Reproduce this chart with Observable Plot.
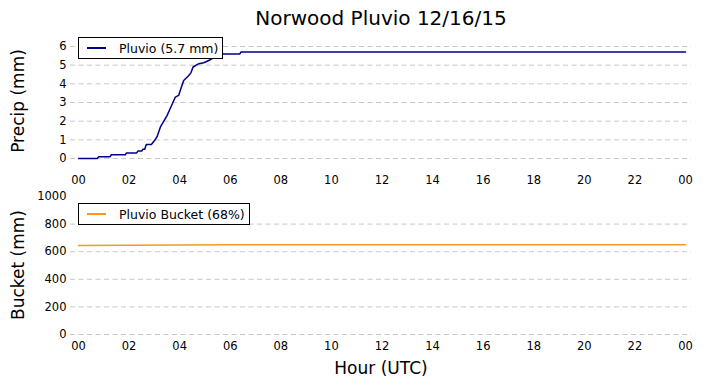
<!DOCTYPE html>
<html><head><meta charset="utf-8">
<script src="https://cdn.jsdelivr.net/npm/d3@7"></script>
<script src="https://cdn.jsdelivr.net/npm/@observablehq/plot@0.6"></script>
<style>
body{margin:0;background:#fff;font-family:"DejaVu Sans",sans-serif;}
#wrap{position:relative;width:703px;height:388px;overflow:hidden;}
.abs{position:absolute;}
.title{left:0;width:762px;top:6px;text-align:center;font-size:20px;}
.ylab{font-size:17px;white-space:nowrap;transform:translate(-50%,-50%) rotate(-90deg);}
.legend{border:1px solid #000;background:#fff;font-size:12.5px;height:22px;box-sizing:border-box;display:flex;align-items:center;}
.legend .sw{width:19px;height:0;border-top:2px solid;margin:0 13px 0 8px;}
</style></head>
<body><div id="wrap"></div>
<script>
// Precip (cumulative, mm) vs hour UTC
const precipHours = [0,0.74,0.8,1.25,1.3,1.85,1.9,2.3,2.35,2.5,2.55,2.62,2.68,2.88,3.0,3.11,3.24,3.35,3.5,3.64,3.75,3.83,3.96,4.05,4.16,4.36,4.45,4.53,4.76,4.95,5.15,5.4,5.73,6.38,6.42,24];
const precipMm   = [0,0,0.1,0.1,0.2,0.2,0.3,0.3,0.4,0.4,0.5,0.5,0.75,0.75,0.95,1.18,1.69,1.95,2.3,2.72,3.05,3.29,3.38,3.75,4.18,4.45,4.6,4.9,5.08,5.13,5.25,5.45,5.6,5.6,5.7,5.7];
// Bucket level (mm)
const bucketHours = [0,2,4,6,24];
const bucketMm    = [645,646,649,650,651];
const xTicks = [0,2,4,6,8,10,12,14,16,18,20,22,24];
const precipTicks = [0,1,2,3,4,5,6];
const bucketTicks = [0,200,400,600,800,1000];
const bucketGrid = [0,200,400,600,800];

const precipData = precipHours.map((h,i)=>({h, v: precipMm[i]}));
const bucketData = bucketHours.map((h,i)=>({h, v: bucketMm[i]}));
const fmt = d => String(d % 24).padStart(2,"0");
const yfmt = d => String(d);
const xDomain = [-0.316, 24.237];
const plotStyle = {fontFamily:"DejaVu Sans, sans-serif", fontSize:"11.5px", color:"#000", background:"#fff", overflow:"visible"};

const wrap = document.getElementById("wrap");
function add(cls, css, html){const d=document.createElement("div");d.className="abs "+cls;Object.assign(d.style,css);if(html!==undefined)d.innerHTML=html;wrap.appendChild(d);return d;}

add("title",{},"Norwood Pluvio 12/16/15");

const topPlot = Plot.plot({
  width:703, height:165, marginLeft:70, marginRight:12, marginTop:10, marginBottom:31,
  style: plotStyle,
  x:{domain:xDomain, ticks:xTicks, tickFormat:fmt, tickSize:0, tickPadding:11, label:null},
  y:{domain:[-0.32,6.32], ticks:precipTicks, tickFormat:yfmt, tickSize:0, tickPadding:4, label:null},
  marks:[
    Plot.gridY(precipTicks,{stroke:"#c8c8c8", strokeOpacity:1, strokeDasharray:"5,3.5"}),
    Plot.line(precipData,{x:"h", y:"v", stroke:"#00008b", strokeWidth:1.5}),
    Plot.axisX(xTicks,{tickFormat:fmt, tickSize:0, tickPadding:11, label:null}),
    Plot.axisY(precipTicks,{tickFormat:yfmt, tickSize:0, tickPadding:4, label:null})
  ]
});
topPlot.style.position="absolute"; topPlot.style.left="0px"; topPlot.style.top="30px";
wrap.appendChild(topPlot);

const botPlot = Plot.plot({
  width:703, height:175, marginLeft:70, marginRight:12, marginTop:10, marginBottom:27,
  style: plotStyle,
  x:{domain:xDomain, ticks:xTicks, tickFormat:fmt, tickSize:0, tickPadding:7, label:null},
  y:{domain:[0,1000], ticks:bucketTicks, tickFormat:yfmt, tickSize:0, tickPadding:4, label:null},
  marks:[
    Plot.gridY(bucketGrid,{stroke:"#c8c8c8", strokeOpacity:1, strokeDasharray:"5,3.5"}),
    Plot.line(bucketData,{x:"h", y:"v", stroke:"#f39a1e", strokeWidth:1.5}),
    Plot.axisX(xTicks,{tickFormat:fmt, tickSize:0, tickPadding:7, label:null}),
    Plot.axisY(bucketTicks,{tickFormat:yfmt, tickSize:0, tickPadding:4, label:null})
  ]
});
botPlot.style.position="absolute"; botPlot.style.left="0px"; botPlot.style.top="186px";
wrap.appendChild(botPlot);

add("ylab",{left:"18px",top:"101px"},"Precip (mm)");
add("ylab",{left:"18px",top:"265px"},"Bucket (mm)");
add("",{left:"0px",width:"762px",top:"358px",textAlign:"center",fontSize:"17px"},"Hour (UTC)");

add("legend",{left:"78px",top:"37px",width:"145px"},'<span class="sw" style="border-color:#00008b"></span>Pluvio (5.7 mm)');
add("legend",{left:"78px",top:"203px",width:"172px"},'<span class="sw" style="border-color:#f39a1e"></span>Pluvio Bucket (68%)');
</script></body></html>
